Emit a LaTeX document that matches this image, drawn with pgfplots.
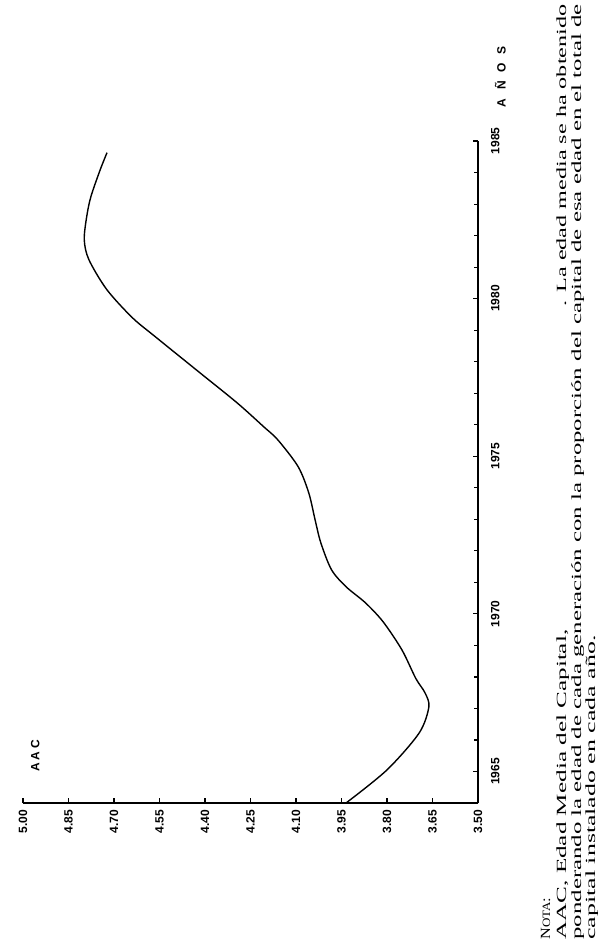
\documentclass[border=0pt]{standalone}
\usepackage{fontspec}
\setmainfont{Liberation Serif}
\setsansfont{Liberation Sans}
\usepackage{graphicx}
\usepackage{pgfplots}
\pgfplotsset{compat=1.18}

\begin{document}
\rotatebox{90}{%
\begin{tikzpicture}
    \useasboundingbox (-69.5pt,-60pt) rectangle (401.5pt,239pt);

    \begin{axis}[
        scale only axis,
        width            = 331pt,
        height           = 227.5pt,
        xmin             = 1964,
        xmax             = 1985,
        ymin             = 3.5,
        ymax             = 5.0,
        clip             = false,
        axis x line*     = bottom,
        axis y line*     = left,
        axis line style  = {line width=0.9pt},
        tick align       = inside,
        major tick length= 2.5pt,
        minor tick length= 2.2pt,
        tick style       = {line width=0.6pt, black},
        xtick            = {1965,1970,...,1985},
        minor xtick      = {1964,...,1985},
        ytick            = {3.5,3.65,3.8,3.95,4.1,4.25,4.4,4.55,4.7,4.85,5},
        ticklabel style  = {font=\sffamily\bfseries\fontsize{6}{7}\selectfont},
        /pgf/number format/assume math mode=true,
        xticklabel style = {/pgf/number format/1000 sep={}, yshift=-3pt},
        yticklabel style = {/pgf/number format/.cd, fixed, fixed zerofill, precision=2}]

        \addplot[black, line width=0.7pt, smooth, tension=0.5]
            coordinates {
                (1964.00, 3.935)
                (1965.05, 3.800)
                (1966.22, 3.694)
                (1967.05, 3.662)
                (1967.50, 3.675)
                (1967.95, 3.705)
                (1968.86, 3.751)
                (1969.75, 3.813)
                (1970.35, 3.871)
                (1970.86, 3.935)
                (1971.40, 3.983)
                (1972.25, 4.018)
                (1972.98, 4.037)
                (1973.84, 4.058)
                (1974.67, 4.093)
                (1975.52, 4.160)
                (1975.94, 4.207)
                (1976.70, 4.295)
                (1977.75, 4.430)
                (1978.80, 4.565)
                (1979.40, 4.640)
                (1980.29, 4.724)
                (1981.24, 4.783)
                (1981.87, 4.798)
                (1982.60, 4.790)
                (1983.24, 4.776)
                (1984.10, 4.745)
                (1984.63, 4.723)
            };

        \node[font=\sffamily\bfseries\fontsize{6}{7}\selectfont]
            at (axis cs:1965.5,4.96) {A\hspace{1.2pt}A\hspace{1.2pt}C};
        \node[font=\sffamily\bfseries\fontsize{6}{7}\selectfont, anchor=north, yshift=-5pt]
            at (axis cs:1987.03,3.5) {A\hspace{4.3pt}Ñ\hspace{4.3pt}O\hspace{4.3pt}S};
    \end{axis}

    % nota al pie
    \begin{scope}[every node/.style={anchor=base west, inner sep=0pt, font=\fontsize{7}{7.5}\selectfont}]
    \node at (-68.5pt,-36pt)
        {\resizebox{21pt}{\height}{N{\fontsize{5.6}{6}\selectfont OTA}:}};
    \node at (-68.5pt,-44pt)
        {\resizebox{155pt}{\height}{AAC, Edad Media del Capital,}};
    \node at (248pt,-44pt)
        {\resizebox{151pt}{\height}{. La edad media se ha obtenido}};
    \node at (-68.5pt,-51.5pt)
        {\resizebox{467.5pt}{\height}{ponderando la edad de cada generación con la proporción del capital de esa edad en el total de}};
    \node at (-68.5pt,-58.5pt)
        {\resizebox{152pt}{\height}{capital instalado en cada año.}};
    \end{scope}
\end{tikzpicture}%
}
\end{document}
